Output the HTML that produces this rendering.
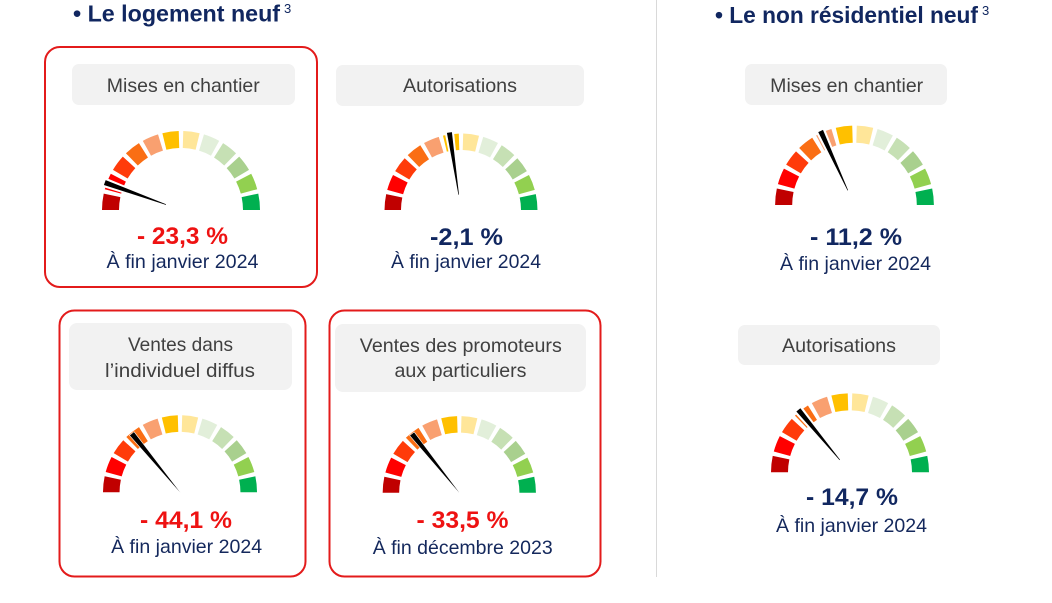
<!DOCTYPE html>
<html>
<head>
<meta charset="utf-8">
<style>
  html,body{margin:0;padding:0;background:#fff;}
  body{width:1052px;height:603px;overflow:hidden;}
  svg{display:block;}
  .hd{font-family:"Liberation Sans",sans-serif;font-weight:bold;font-size:23px;fill:#112760;}
  .sup{font-family:"Liberation Sans",sans-serif;font-size:13px;fill:#112760;}
  .tt{font-family:"Liberation Sans",sans-serif;font-size:19.5px;fill:#404040;}
  .vr{font-family:"Liberation Sans",sans-serif;font-weight:bold;font-size:24px;fill:#EE1212;}
  .vb{font-family:"Liberation Sans",sans-serif;font-weight:bold;font-size:24px;fill:#112760;}
  .st{font-family:"Liberation Sans",sans-serif;font-size:19.5px;fill:#14285C;}
</style>
</head>
<body>
<svg width="1052" height="603" viewBox="0 0 1052 603" xmlns="http://www.w3.org/2000/svg">
  <defs>
    <path id="seg" d="M-79,0 A79,79 0 0 1 -77.27,-16.42 L-60.65,-12.89 A62,62 0 0 0 -62,0 Z"/>
    <g id="gauge">
      <use href="#seg" fill="#C00000"/>
      <use href="#seg" fill="#FF0000" transform="rotate(15.27)"/>
      <use href="#seg" fill="#FF3B0A" transform="rotate(30.55)"/>
      <use href="#seg" fill="#FA6E14" transform="rotate(45.82)"/>
      <use href="#seg" fill="#F9A070" transform="rotate(61.09)"/>
      <use href="#seg" fill="#FFC000" transform="rotate(76.36)"/>
      <use href="#seg" fill="#FFE699" transform="rotate(91.64)"/>
      <use href="#seg" fill="#E2EFDA" transform="rotate(106.91)"/>
      <use href="#seg" fill="#C6E0B4" transform="rotate(122.18)"/>
      <use href="#seg" fill="#A9D08E" transform="rotate(137.45)"/>
      <use href="#seg" fill="#92D050" transform="rotate(152.73)"/>
      <use href="#seg" fill="#00B050" transform="rotate(168)"/>
    </g>
    <g id="needleHalo">
      <polygon points="-85,-5 -85,5 -56,3.6 -56,-3.6" fill="#fff"/>
      <polygon points="-81,-2.6 -81,2.6 -16,0.3 -16,-0.3" fill="#000"/>
    </g>
    <g id="needleFull">
      <polygon points="-78,-3 -78,3 0,0.3 0,-0.3" fill="#000" stroke="#fff" stroke-width="0.6"/>
    </g>
  </defs>

  <!-- divider -->
  <line x1="656.5" y1="0" x2="656.5" y2="577" stroke="#D9D9D9" stroke-width="1"/>

  <!-- headers -->
  <text class="hd" x="73" y="21.5" textLength="207" lengthAdjust="spacingAndGlyphs">• Le logement neuf</text>
  <text class="sup" x="284" y="13">3</text>
  <text class="hd" x="715" y="23" textLength="263" lengthAdjust="spacingAndGlyphs">• Le non résidentiel neuf</text>
  <text class="sup" x="982" y="15">3</text>

  <!-- red borders -->
  <rect x="45" y="47" width="272" height="240" rx="15" ry="15" fill="none" stroke="#E31B1B" stroke-width="2"/>
  <rect x="59.5" y="310.5" width="246" height="266" rx="15" ry="15" fill="none" stroke="#E31B1B" stroke-width="2"/>
  <rect x="329.5" y="310.5" width="271" height="266" rx="15" ry="15" fill="none" stroke="#E31B1B" stroke-width="2"/>

  <!-- gray title boxes -->
  <rect x="72" y="64" width="223" height="41" rx="7" fill="#F2F2F2"/>
  <rect x="336" y="65" width="248" height="41" rx="7" fill="#F2F2F2"/>
  <rect x="745" y="64" width="202" height="41" rx="7" fill="#F2F2F2"/>
  <rect x="69" y="323" width="223" height="67" rx="8" fill="#F2F2F2"/>
  <rect x="335" y="324" width="251" height="68" rx="8" fill="#F2F2F2"/>
  <rect x="738" y="325" width="202" height="40" rx="7" fill="#F2F2F2"/>

  <!-- titles -->
  <text class="tt" x="183.3" y="92" text-anchor="middle" textLength="153" lengthAdjust="spacingAndGlyphs">Mises en chantier</text>
  <text class="tt" x="460" y="92" text-anchor="middle" textLength="114" lengthAdjust="spacingAndGlyphs">Autorisations</text>
  <text class="tt" x="846.7" y="92" text-anchor="middle" textLength="153" lengthAdjust="spacingAndGlyphs">Mises en chantier</text>
  <text class="tt" x="180.5" y="351" text-anchor="middle" textLength="105" lengthAdjust="spacingAndGlyphs">Ventes dans</text>
  <text class="tt" x="180" y="377" text-anchor="middle" textLength="150" lengthAdjust="spacingAndGlyphs">l’individuel diffus</text>
  <text class="tt" x="460.8" y="352" text-anchor="middle" textLength="202" lengthAdjust="spacingAndGlyphs">Ventes des promoteurs</text>
  <text class="tt" x="460.5" y="377" text-anchor="middle" textLength="132" lengthAdjust="spacingAndGlyphs">aux particuliers</text>
  <text class="tt" x="839" y="352" text-anchor="middle" textLength="114" lengthAdjust="spacingAndGlyphs">Autorisations</text>

  <!-- gauges -->
  <g transform="translate(181,210)">
    <use href="#gauge"/>
    <use href="#needleHalo" transform="rotate(19.8)"/>
  </g>
  <g transform="translate(461,210) scale(0.968)">
    <use href="#gauge"/>
    <use href="#needleHalo" transform="rotate(81.5)"/>
  </g>
  <g transform="translate(854.5,205) scale(1.005)">
    <use href="#gauge"/>
    <use href="#needleHalo" transform="rotate(65.4)"/>
  </g>
  <g transform="translate(180,492.3) scale(0.975)">
    <use href="#gauge"/>
    <use href="#needleFull" transform="rotate(50.6)"/>
  </g>
  <g transform="translate(459.3,492.7) scale(0.97)">
    <use href="#gauge"/>
    <use href="#needleFull" transform="rotate(51.2)"/>
  </g>
  <g transform="translate(850,472.3) scale(1.0)">
    <use href="#gauge"/>
    <use href="#needleHalo" transform="rotate(50.4)"/>
  </g>

  <!-- values -->
  <text class="vr" x="182.5" y="244" text-anchor="middle" textLength="91" lengthAdjust="spacingAndGlyphs">- 23,3 %</text>
  <text class="vb" x="466.5" y="245" text-anchor="middle" textLength="73" lengthAdjust="spacingAndGlyphs">-2,1 %</text>
  <text class="vb" x="856" y="245" text-anchor="middle" textLength="92" lengthAdjust="spacingAndGlyphs">- 11,2 %</text>
  <text class="vr" x="186" y="528" text-anchor="middle" textLength="92" lengthAdjust="spacingAndGlyphs">- 44,1 %</text>
  <text class="vr" x="462.5" y="528" text-anchor="middle" textLength="92" lengthAdjust="spacingAndGlyphs">- 33,5 %</text>
  <text class="vb" x="852" y="505" text-anchor="middle" textLength="92" lengthAdjust="spacingAndGlyphs">- 14,7 %</text>

  <!-- subtitles -->
  <text class="st" x="182.5" y="268" text-anchor="middle" textLength="152" lengthAdjust="spacingAndGlyphs">À fin janvier 2024</text>
  <text class="st" x="466" y="268" text-anchor="middle" textLength="150" lengthAdjust="spacingAndGlyphs">À fin janvier 2024</text>
  <text class="st" x="855.5" y="270" text-anchor="middle" textLength="151" lengthAdjust="spacingAndGlyphs">À fin janvier 2024</text>
  <text class="st" x="186.6" y="553" text-anchor="middle" textLength="151" lengthAdjust="spacingAndGlyphs">À fin janvier 2024</text>
  <text class="st" x="462.7" y="554" text-anchor="middle" textLength="180" lengthAdjust="spacingAndGlyphs">À fin décembre 2023</text>
  <text class="st" x="851.5" y="532" text-anchor="middle" textLength="151" lengthAdjust="spacingAndGlyphs">À fin janvier 2024</text>
</svg>
</body>
</html>
